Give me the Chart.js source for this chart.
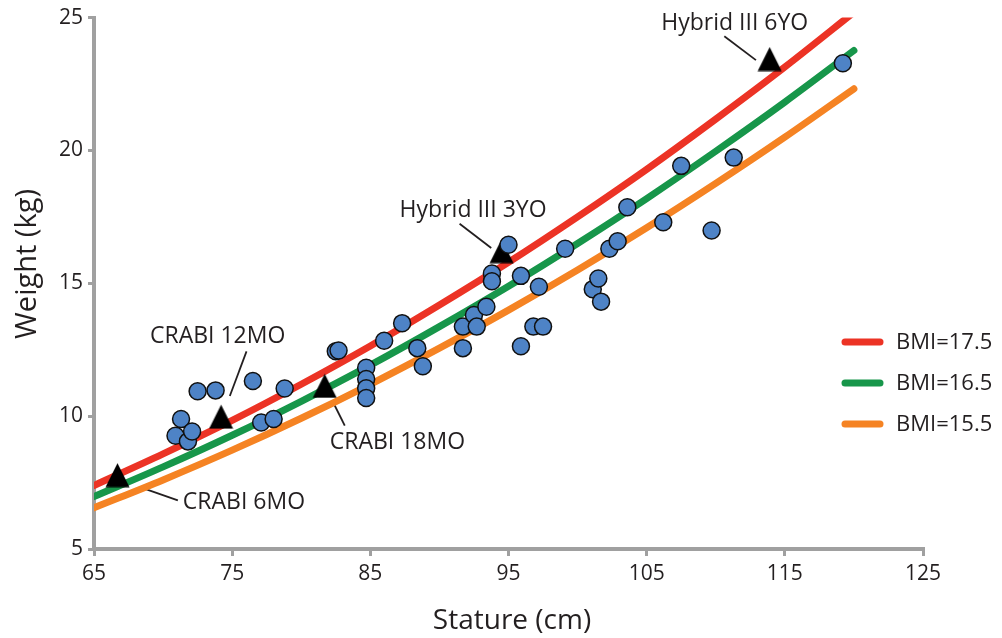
<!DOCTYPE html>
<html>
<head>
<meta charset="utf-8">
<script src="https://cdn.jsdelivr.net/npm/chart.js@4.4.1/dist/chart.umd.min.js"></script>
<style>
  html, body { margin: 0; padding: 0; background: #fff; }
  #wrap { width: 1002px; height: 638px; }
</style>
</head>
<body>
<div id="wrap"><canvas id="bmiChart" width="1002" height="638"></canvas></div>
<script>
// measured children (stature cm / weight kg)
const statureCm = [70.9, 71.3, 71.8, 72.1, 72.5, 73.8, 76.5, 77.1, 78.0, 78.8,
  82.5, 82.7, 84.7, 84.7, 84.7, 84.7, 86.0, 87.3, 88.4, 88.8,
  91.7, 91.7, 92.5, 92.7, 93.4, 93.8, 93.8, 95.0, 95.9, 95.9,
  96.8, 97.5, 97.2, 99.1, 101.1, 101.5, 101.7, 102.3, 102.9, 103.6,
  106.2, 107.5, 109.7, 111.3, 119.2];
const weightKg = [9.26, 9.89, 9.05, 9.42, 10.94, 10.97, 11.32, 9.76, 9.89, 11.04,
  12.44, 12.47, 11.82, 11.40, 11.05, 10.68, 12.84, 13.50, 12.56, 11.88,
  13.37, 12.56, 13.81, 13.37, 14.12, 15.37, 15.08, 16.45, 15.28, 12.63,
  13.37, 13.37, 14.87, 16.30, 14.78, 15.18, 14.31, 16.30, 16.58, 17.86,
  17.30, 19.42, 16.99, 19.73, 23.28];

// crash test dummies
const dummyNames = ['CRABI 6MO', 'CRABI 12MO', 'CRABI 18MO', 'Hybrid III 3YO', 'Hybrid III 6YO'];
const dummyStature = [66.7, 74.2, 81.7, 94.5, 113.9];
const dummyWeight = [7.78, 9.98, 11.14, 16.21, 23.44];

// BMI curves
const bmiLabels = ['BMI=17.5', 'BMI=16.5', 'BMI=15.5'];
const curveStature = [65, 70, 75, 80, 85, 90, 95, 100, 105, 110, 115, 120];
const bmi175 = [7.39, 8.58, 9.84, 11.20, 12.64, 14.18, 15.79, 17.50, 19.29, 21.18, 23.14, 25.20];
const bmi165 = [6.97, 8.09, 9.28, 10.56, 11.92, 13.37, 14.89, 16.50, 18.19, 19.97, 21.82, 23.76];
const bmi155 = [6.55, 7.60, 8.72, 9.92, 11.20, 12.56, 13.99, 15.50, 17.09, 18.76, 20.50, 22.32];

// axis ticks
const xTicks = [65, 75, 85, 95, 105, 115, 125];
const yTicks = [5, 10, 15, 20, 25];

const curveColors = ['#ec3325', '#17964a', '#f58323'];
const textColor = '#231f20';
const axisGray = '#a0a0a0';
const font = 'Open Sans';

// label text + leader line, in data coordinates
const notes = [
  { text: dummyNames[0], at: [71.43, 6.50], line: [68.33, 7.33, 71.07, 6.83] },
  { text: dummyNames[1], at: [69.05, 12.74], line: [76.04, 12.44, 74.83, 10.76] },
  { text: dummyNames[2], at: [82.06, 8.78], line: [82.26, 10.57, 83.15, 9.64] },
  { text: dummyNames[3], at: [87.12, 17.49], line: [91.46, 17.24, 93.75, 16.33] },
  { text: dummyNames[4], at: [106.06, 24.53], line: [110.62, 24.30, 112.91, 23.40] }
];

// triangle marker, a bit taller than equilateral
const tri = document.createElement('canvas');
tri.width = 25; tri.height = 25;
const tctx = tri.getContext('2d');
tctx.fillStyle = '#000';
tctx.beginPath();
tctx.moveTo(12.5, 0.5);
tctx.lineTo(24.5, 24.5);
tctx.lineTo(0.5, 24.5);
tctx.closePath();
tctx.fill();

const toXY = (xs, ys) => xs.map((v, i) => ({ x: v, y: ys[i] }));

const curveSets = [bmi175, bmi165, bmi155].map((vals, i) => ({
  label: bmiLabels[i],
  data: toXY(curveStature, vals),
  showLine: true,
  borderColor: curveColors[i],
  backgroundColor: curveColors[i],
  borderWidth: 7,
  borderCapStyle: 'round',
  pointRadius: 0,
  cubicInterpolationMode: 'monotone',
  clip: 0
}));

const leaders = {
  id: 'leaders',
  beforeDatasetsDraw(chart) {
    const { ctx, scales: { x, y } } = chart;
    ctx.save();
    ctx.strokeStyle = textColor;
    ctx.lineWidth = 1.8;
    notes.forEach(n => {
      ctx.beginPath();
      ctx.moveTo(x.getPixelForValue(n.line[0]), y.getPixelForValue(n.line[1]));
      ctx.lineTo(x.getPixelForValue(n.line[2]), y.getPixelForValue(n.line[3]));
      ctx.stroke();
    });
    ctx.restore();
  },
  afterDraw(chart) {
    const { ctx, scales: { x, y }, chartArea } = chart;
    ctx.save();
    ctx.fillStyle = textColor;
    ctx.textBaseline = 'alphabetic';
    ctx.textAlign = 'left';
    ctx.font = `23px "${font}"`;
    notes.forEach(n => {
      ctx.fillText(n.text, x.getPixelForValue(n.at[0]), y.getPixelForValue(n.at[1]));
    });

    // legend on the right
    ctx.font = `22px "${font}"`;
    curveSets.forEach((ds, i) => {
      const ly = 342 + i * 41;
      ctx.strokeStyle = ds.borderColor;
      ctx.lineWidth = 7;
      ctx.lineCap = 'round';
      ctx.beginPath();
      ctx.moveTo(chartArea.right - 78, ly);
      ctx.lineTo(chartArea.right - 43, ly);
      ctx.stroke();
      ctx.textBaseline = 'middle';
      ctx.fillText(ds.label, chartArea.right - 27, ly + 1);
    });

    // axis titles
    ctx.textBaseline = 'alphabetic';
    ctx.textAlign = 'center';
    ctx.font = `28px "${font}"`;
    ctx.fillText('Stature (cm)', 512, 629);
    ctx.translate(35.5, 264);
    ctx.rotate(-Math.PI / 2);
    ctx.font = `29px "${font}"`;
    ctx.fillText('Weight (kg)', 0, 0);
    ctx.restore();
  }
};

new Chart(document.getElementById('bmiChart'), {
  type: 'scatter',
  data: {
    datasets: [
      {
        label: 'Children',
        data: toXY(statureCm, weightKg),
        pointRadius: 8.5,
        pointBackgroundColor: '#4e83c6',
        pointBorderColor: '#111',
        pointBorderWidth: 1.5
      },
      {
        label: 'Dummies',
        data: toXY(dummyStature, dummyWeight),
        pointStyle: tri,
        pointRadius: 12
      },
      ...curveSets
    ]
  },
  options: {
    responsive: false,
    animation: false,
    devicePixelRatio: 1,
    layout: { padding: { top: 14, right: 79, left: 0, bottom: 0 } },
    plugins: {
      legend: { display: false },
      tooltip: { enabled: false }
    },
    scales: {
      x: {
        type: 'linear',
        min: 65,
        max: 125,
        afterFit(scale) { scale.height = 89; },
        afterBuildTicks(scale) { scale.ticks = xTicks.map(v => ({ value: v })); },
        grid: { drawOnChartArea: false, drawTicks: true, tickLength: 7, color: axisGray, lineWidth: 3 },
        border: { display: true, color: axisGray, width: 4 },
        ticks: { color: textColor, padding: 5, font: { family: font, size: 21 } }
      },
      y: {
        type: 'linear',
        min: 5,
        max: 25,
        afterFit(scale) { scale.width = 94; },
        afterBuildTicks(scale) { scale.ticks = yTicks.map(v => ({ value: v })); },
        grid: { drawOnChartArea: false, drawTicks: true, tickLength: 6, color: axisGray, lineWidth: 3 },
        border: { display: true, color: axisGray, width: 4 },
        ticks: { color: textColor, padding: 5, font: { family: font, size: 21 } }
      }
    }
  },
  plugins: [leaders]
});
</script>
</body>
</html>
